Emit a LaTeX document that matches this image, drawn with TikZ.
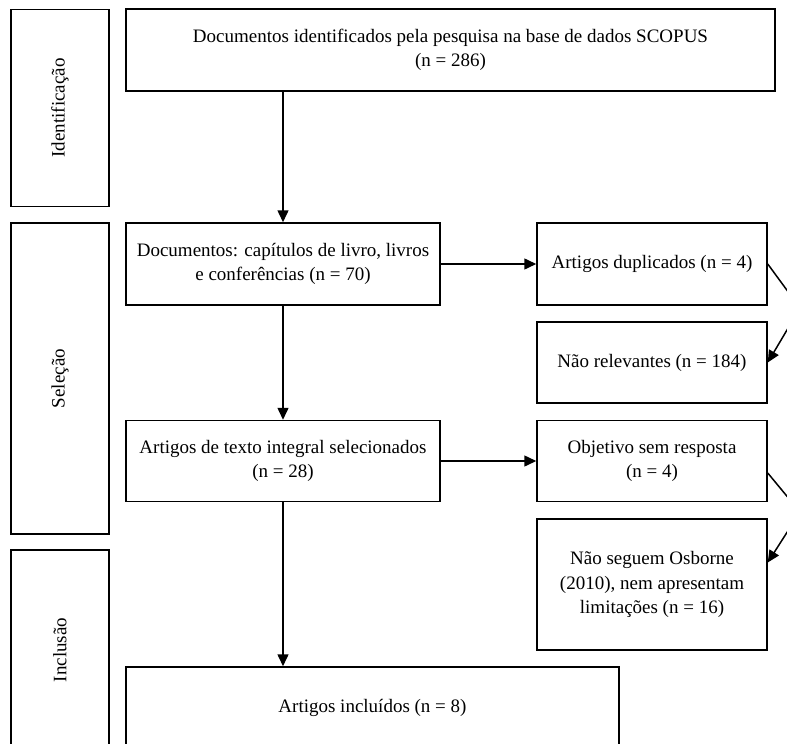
\documentclass[tikz,border=0pt]{standalone}
\usepackage{fontspec}
\setmainfont{Liberation Serif}
\usetikzlibrary{arrows.meta}

\begin{document}
\begin{tikzpicture}[x=1pt,y=-1pt,>={Triangle[length=12pt,width=11pt]},
  caixa/.style={draw,line width=1.5pt,inner sep=0pt,align=center,font=\fontsize{19}{24.5}\selectfont},
  fase/.style={caixa,rotate=90,minimum height=98pt},
  seta/.style={->,line width=1.5pt}]
  \useasboundingbox (0,0) rectangle (787,744);
  \clip (0,0) rectangle (787,744);
  % --- fases ---
  \node[fase,minimum width=197pt] (ident) at (60,108) {Identificação};
  \node[fase,minimum width=311pt] (selecao) at (60,378.5) {Seleção};
  \node[fase,minimum width=200pt] (inclusao) at (60,650) {Inclusão};
  % --- caixas principais ---
  \node[caixa,minimum width=649pt,minimum height=82pt] (busca) at (450.5,50)
    {Documentos identificados pela pesquisa na base de dados SCOPUS\\(n = 286)};
  \node[caixa,minimum width=314pt,minimum height=82pt] (docs) at (283,264)
    {Documentos: capítulos de livro, livros\\e conferências (n = 70)};
  \node[caixa,minimum width=314pt,minimum height=81pt] (texto) at (283,461)
    {Artigos de texto integral selecionados\\(n = 28)};
  \node[caixa,minimum width=493pt,minimum height=82pt] (incl) at (372.5,708)
    {Artigos incluídos (n = 8)};
  % --- exclusoes ---
  \node[caixa,minimum width=230pt,minimum height=82pt] (dupl) at (652,264)
    {Artigos duplicados (n = 4)};
  \node[caixa,minimum width=230pt,minimum height=81pt] (relev) at (652,362.5)
    {Não relevantes (n = 184)};
  \node[caixa,minimum width=230pt,minimum height=81pt] (objet) at (652,461)
    {Objetivo sem resposta\\(n = 4)};
  \node[caixa,minimum width=230pt,minimum height=131pt] (osborne) at (652,584.5)
    {Não seguem Osborne\\(2010), nem apresentam\\limitações (n = 16)};
  % --- setas ---
  \draw[seta] (docs.north |- busca.south) -- (docs.north);
  \draw[seta] (docs) -- (texto);
  \draw[seta] (texto.south) -- (texto.south |- incl.north);
  \draw[seta] (docs) -- (dupl);
  \draw[seta] (texto) -- (objet);
  \coordinate (volta1) at (800,308);
  \coordinate (volta2) at (800,512);
  \draw[seta] (dupl.east) -- (volta1) -- (relev.east);
  \draw[seta] ([yshift=-12pt]objet.east) -- (volta2) -- ([yshift=22pt]osborne.east);
\end{tikzpicture}
\end{document}
